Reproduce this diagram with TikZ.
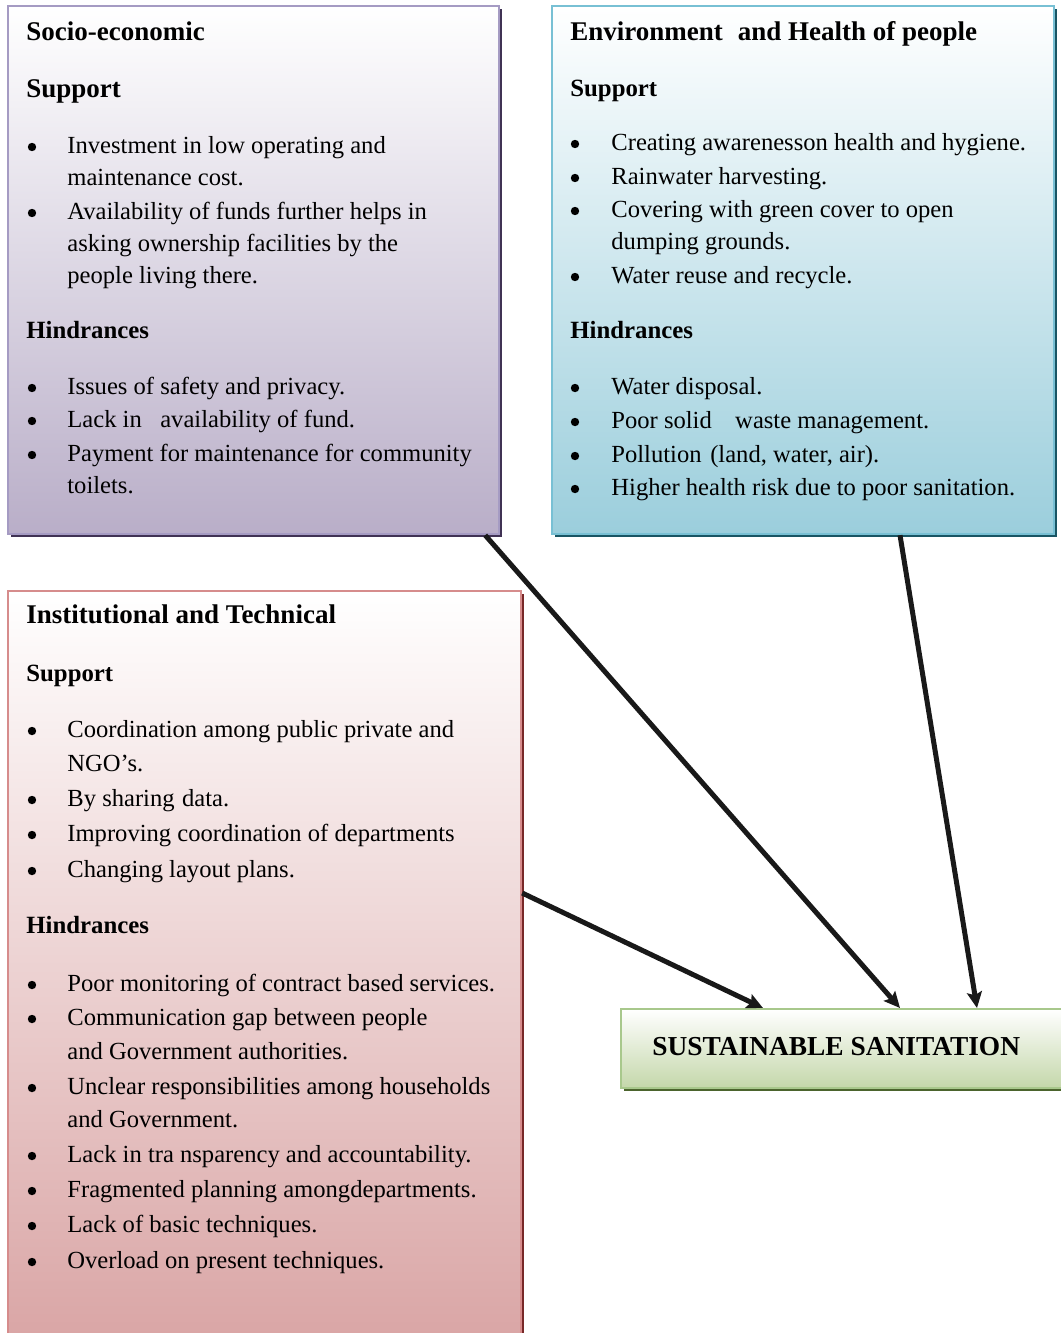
\documentclass[tikz,border=0pt]{standalone}
\usepackage{fontspec}
\setmainfont{Liberation Serif}
\usetikzlibrary{arrows.meta,shadows}

\definecolor{socioFill}{RGB}{185,174,200}
\definecolor{socioLine}{RGB}{165,155,195}
\definecolor{socioShade}{RGB}{64,50,84}
\definecolor{envFill}{RGB}{155,206,220}
\definecolor{envLine}{RGB}{120,192,212}
\definecolor{envShade}{RGB}{25,85,100}
\definecolor{instFill}{RGB}{217,164,164}
\definecolor{instLine}{RGB}{214,140,140}
\definecolor{instShade}{RGB}{120,40,40}
\definecolor{goalFill}{RGB}{196,215,170}
\definecolor{goalLine}{RGB}{168,200,140}
\definecolor{goalShade}{RGB}{75,100,45}

\begin{document}
\begin{tikzpicture}[
    x=0.5pt, y=-0.5pt,
    box/.style={rectangle, anchor=north west, line width=1.1pt, inner sep=0pt},
    txt/.style={anchor=base west, inner sep=0pt, font=\fontsize{12.3}{14}\selectfont},
    head/.style={anchor=base west, inner sep=0pt, font=\fontsize{13.5}{15}\selectfont\bfseries},
    sub/.style={head, font=\fontsize{12.4}{14}\selectfont\bfseries},
    arr/.style={line width=2.5pt, black!90, -{Stealth[length=8pt,width=7.5pt,inset=1.5pt]}},
]
    \useasboundingbox (0,0) rectangle (1060,1333);

    % the four boxes
    \node[box, draw=socioLine, top color=white, bottom color=socioFill,
          drop shadow={shadow xshift=1.5pt, shadow yshift=-1.5pt, fill=socioShade, opacity=1},
          minimum width=245.5pt, minimum height=264pt] (socio) at (7,5) {};
    \node[box, draw=envLine, top color=white, bottom color=envFill,
          drop shadow={shadow xshift=1.5pt, shadow yshift=-1.5pt, fill=envShade, opacity=1},
          minimum width=251pt, minimum height=264pt] (env) at (551,5) {};
    \node[box, draw=instLine, top color=white, bottom color=instFill,
          drop shadow={shadow xshift=1.5pt, shadow yshift=-1.5pt, fill=instShade, opacity=1},
          minimum width=256.5pt, minimum height=380pt] (inst) at (7,590) {};
    \node[box, draw=goalLine, top color=white, bottom color=goalFill,
          drop shadow={shadow xshift=1.5pt, shadow yshift=-1.5pt, fill=goalShade, opacity=1},
          minimum width=225pt, minimum height=39.5pt] (goal) at (620,1008) {};

    % socio-economic
    \node[head] (se-title) at (26,40) {Socio-economic};
    \node[head] (se-sup) at (26,97) {Support};
    \foreach \y/\t [count=\i] in {153/{Investment in low operating and}, 185/{maintenance cost.},
        219/{Availability of funds further helps in}, 251/{asking ownership facilities by the},
        283/{people living there.}}
        \node[txt] (se-s\i) at (67,\y) {\t};
    \node[sub] (se-hin) at (26,338) {Hindrances};
    \foreach \y/\t [count=\i] in {394/{Issues of safety and privacy.},
        427/{Lack in\hspace{0.75em}availability of fund.},
        461/{Payment for maintenance for community}, 493/{toilets.}}
        \node[txt] (se-h\i) at (67,\y) {\t};
    \foreach \y in {153,219,394,427,461}
        \fill (32,\y-6) circle (4.2);

    % environment and health
    \node[head] (eh-title) at (570,40) {Environment\hspace{0.3em} and Health of people};
    \node[sub] (eh-sup) at (570,96) {Support};
    \foreach \y/\t [count=\i] in {150/{Creating awarenesson health and hygiene.}, 184/{Rainwater harvesting.},
        217/{Covering with green cover to open}, 249/{dumping grounds.},
        283/{Water reuse and recycle.}}
        \node[txt] (eh-s\i) at (611,\y) {\t};
    \node[sub] (eh-hin) at (570,338) {Hindrances};
    \foreach \y/\t [count=\i] in {394/{Water disposal.},
        428/{Poor solid\hspace{0.95em}waste management.},
        462/{Pollution\hspace{0.35em}(land, water, air).},
        495/{Higher health risk due to poor sanitation.}}
        \node[txt] (eh-h\i) at (611,\y) {\t};
    \foreach \y in {150,184,217,283,394,428,462,495}
        \fill (575,\y-6) circle (4.2);

    % institutional and technical
    \node[head] (it-title) at (26,623) {Institutional and Technical};
    \node[sub] (it-sup) at (26,681) {Support};
    \foreach \y/\t [count=\i] in {737/{Coordination among public private and}, 771/{NGO's.},
        806/{By sharing\hspace{0.3em}data.}, 841/{Improving coordination of departments},
        877/{Changing layout plans.}}
        \node[txt] (it-s\i) at (67,\y) {\t};
    \node[sub] (it-hin) at (26,933) {Hindrances};
    \foreach \y/\t [count=\i] in {991/{Poor monitoring of contract based services.},
        1025/{Communication gap between people}, 1059/{and Government authorities.},
        1094/{Unclear responsibilities among households}, 1127/{and Government.},
        1162/{Lack in tra nsparency and accountability.},
        1197/{Fragmented planning amongdepartments.},
        1232/{Lack of basic techniques.}, 1268/{Overload on present techniques.}}
        \node[txt] (it-h\i) at (67,\y) {\t};
    \foreach \y in {737,806,841,877,991,1025,1094,1162,1197,1232,1268}
        \fill (32,\y-6) circle (4.2);

    % goal
    \node[head, font=\fontsize{13.7}{15}\selectfont\bfseries] (goal-text) at (652,1055) {SUSTAINABLE SANITATION};

    % links into the goal
    \draw[arr] ([xshift=-7.5pt]socio.south east) -- ([xshift=140pt]goal.north west);
    \draw[arr] ([xshift=174.5pt]env.south west) -- ([xshift=178.5pt]goal.north west);
    \draw[arr] ([yshift=-151.5pt]inst.north east) -- ([xshift=71.5pt]goal.north west);
\end{tikzpicture}
\end{document}
